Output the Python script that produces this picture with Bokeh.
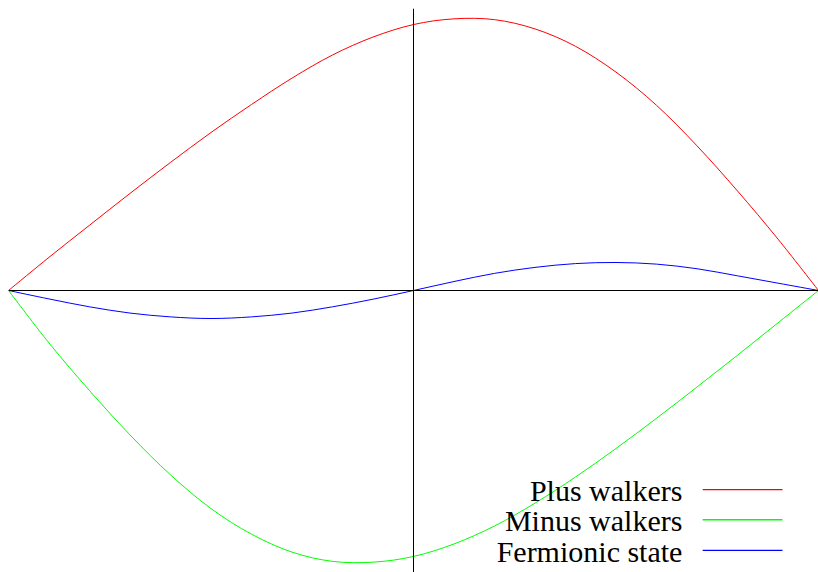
from bokeh.plotting import figure
from bokeh.models import Range1d, Span, Label
from bokeh.embed import file_html
from bokeh.resources import INLINE

# Positions along the box, from the left wall (-1) to the right wall (+1)
x = [-1.0, -0.9, -0.8, -0.7, -0.6, -0.5, -0.4, -0.3, -0.2, -0.1, 0.0,
     0.1, 0.2, 0.3, 0.4, 0.5, 0.6, 0.7, 0.8, 0.9, 1.0]

# Walker densities (arbitrary units)
plus_walkers = [0, 12.2, 24.0, 35.7, 47.1, 58.1, 68.4, 78.1, 86.6, 93.2, 97.8,
                99.9, 99.6, 96.2, 89.8, 80.3, 68.1, 53.2, 36.6, 18.9, 0]
minus_walkers = [0, -19.3, -36.8, -53.1, -67.8, -80.2, -89.6, -96.2, -99.6, -99.9, -97.8,
                 -93.2, -86.6, -78.2, -68.6, -58.1, -47.0, -35.5, -23.8, -11.9, 0]
fermionic_state = [0, -3.1, -6.0, -8.3, -9.7, -10.3, -9.7, -8.3, -6.0, -3.2, 0,
                   3.3, 6.3, 8.5, 9.9, 10.3, 9.7, 8.0, 5.4, 2.7, 0]

series_names = ["Plus walkers", "Minus walkers", "Fermionic state"]
series_colors = ["#ff0000", "#00ff00", "#0000ff"]

Y_LIM = 103.7


def smooth_segments(xs, ys):
    """Cubic Bezier pieces (Catmull-Rom style) passing through every sample."""
    n = len(xs)
    out = dict(x0=[], y0=[], x1=[], y1=[], cx0=[], cy0=[], cx1=[], cy1=[])
    for i in range(n - 1):
        a = max(i - 1, 0)
        b = min(i + 2, n - 1)
        out["x0"].append(xs[i]); out["y0"].append(ys[i])
        out["x1"].append(xs[i + 1]); out["y1"].append(ys[i + 1])
        out["cx0"].append(xs[i] + (xs[i + 1] - xs[a]) / 6)
        out["cy0"].append(ys[i] + (ys[i + 1] - ys[a]) / 6)
        out["cx1"].append(xs[i + 1] - (xs[b] - xs[i]) / 6)
        out["cy1"].append(ys[i + 1] - (ys[b] - ys[i]) / 6)
    return out


p = figure(width=818, height=572, output_backend="svg", toolbar_location=None,
           x_axis_location=None, y_axis_location=None,
           x_range=Range1d(-1, 1), y_range=Range1d(-Y_LIM, Y_LIM),
           min_border_left=8, min_border_top=8, min_border_right=0, min_border_bottom=0)
p.grid.visible = False
p.outline_line_color = None
p.background_fill_color = "white"
p.border_fill_color = "white"

# zero axes
p.add_layout(Span(location=0, dimension="width", line_color="black", line_width=1))
p.add_layout(Span(location=0, dimension="height", line_color="black", line_width=1))

for ys, c in zip([plus_walkers, minus_walkers, fermionic_state], series_colors):
    seg = smooth_segments(x, ys)
    p.bezier(x0=seg["x0"], y0=seg["y0"], x1=seg["x1"], y1=seg["y1"],
             cx0=seg["cx0"], cy0=seg["cy0"], cx1=seg["cx1"], cy1=seg["cy1"],
             line_color=c, line_width=1)

# key in the lower right: label, then a short line sample
key_x_text = 0.664      # right edge of labels
key_x0, key_x1 = 0.714, 0.911
key_rows = [-73.2, -84.3, -95.6]
for name, c, ky in zip(series_names, series_colors, key_rows):
    p.add_layout(Label(x=key_x_text, y=ky, text=name, text_align="right",
                       text_baseline="middle", text_font="Liberation Serif",
                       text_font_size="30px", text_color="black", y_offset=-1))
    p.segment(x0=[key_x0], y0=[ky], x1=[key_x1], y1=[ky], line_color=c, line_width=1.3)

open("out.html", "w").write(file_html(p, INLINE))
